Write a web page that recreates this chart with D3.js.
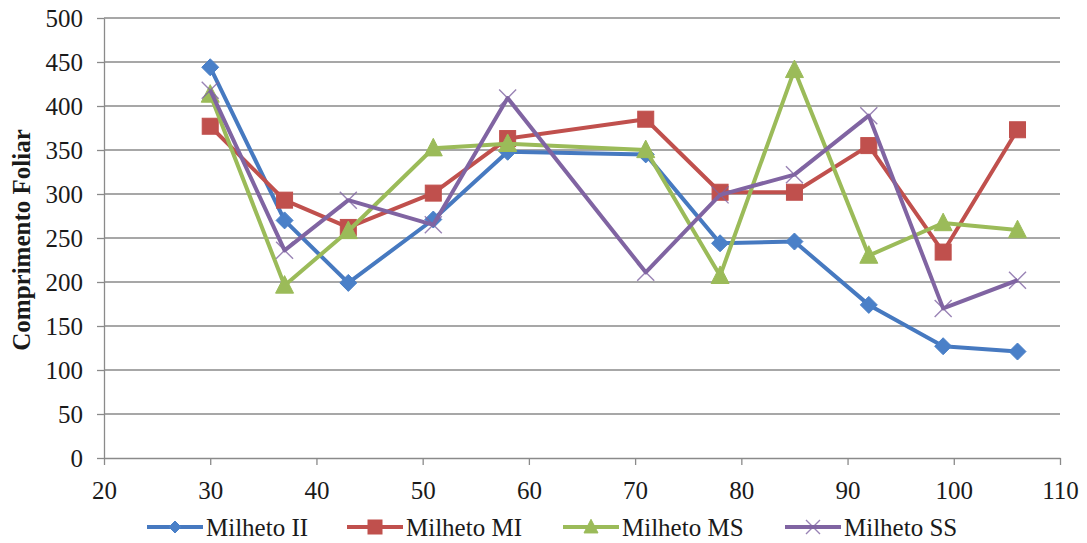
<!DOCTYPE html>
<html>
<head>
<meta charset="utf-8">
<script src="https://cdn.jsdelivr.net/npm/d3@7"></script>
<style>
  html, body { margin: 0; padding: 0; background: #fff; }
  svg { display: block; }
  text { font-family: "Liberation Serif", "Times New Roman", serif; fill: #1a1a1a; }
</style>
</head>
<body>
<svg id="chart" width="1087" height="543"></svg>
<script>
// Days after sowing
const days = [30, 37, 43, 51, 58, 71, 78, 85, 92, 99, 106];

// Leaf length per treatment
const milhetoII = [444, 270, 199, 271, 348, 345, 244, 246, 174, 127, 121];
const milhetoMI = [377, 293, 262, 301, 363, 385, 302, 302, 355, 234, 373];
const milhetoMS = [413, 196, 258, 352, 357, 350, 207, 441, 230, 267, 259];
const milhetoSS = [418, 236, 293, 265, 409, 211, 299, 322, 389, 170, 202];

const seriesNames = ["Milheto II", "Milheto MI", "Milheto MS", "Milheto SS"];
const seriesValues = [milhetoII, milhetoMI, milhetoMS, milhetoSS];

const xTicks = [20, 30, 40, 50, 60, 70, 80, 90, 100, 110];
const yTicks = [0, 50, 100, 150, 200, 250, 300, 350, 400, 450, 500];
const yTitle = "Comprimento Foliar";

const styles = [
  { line: "#4679c0", fill: "#4a80c8", marker: "diamond" },
  { line: "#c0504d", fill: "#c0504d", marker: "square" },
  { line: "#9bbb59", fill: "#9bbb59", marker: "triangle" },
  { line: "#8064a2", fill: "#8064a2", marker: "cross" }
];

const svg = d3.select("#chart");
const plot = { left: 104, right: 1060, top: 18, bottom: 458 };

const x = d3.scaleLinear().domain([20, 110]).range([plot.left, plot.right]);
const y = d3.scaleLinear().domain([0, 500]).range([plot.bottom, plot.top]);

const gridColor = "#8a8a8a";

// horizontal gridlines
svg.append("g")
  .selectAll("line")
  .data(yTicks.filter(d => d > 0))
  .join("line")
  .attr("x1", plot.left).attr("x2", plot.right)
  .attr("y1", d => y(d)).attr("y2", d => y(d))
  .attr("stroke", gridColor).attr("stroke-width", 1.3);

// y axis
const yAxis = svg.append("g")
  .attr("transform", `translate(${plot.left},0)`)
  .call(d3.axisLeft(y).tickValues(yTicks).tickSize(7).tickPadding(14).tickSizeOuter(0));
yAxis.select(".domain").attr("stroke", gridColor).attr("stroke-width", 1.3);
yAxis.selectAll(".tick line").attr("stroke", gridColor).attr("stroke-width", 1.3);
yAxis.selectAll(".tick text").attr("font-size", 25).attr("font-family", "Liberation Serif").attr("fill", "#1a1a1a");

// x axis
const xAxis = svg.append("g")
  .attr("transform", `translate(0,${plot.bottom})`)
  .call(d3.axisBottom(x).tickValues(xTicks).tickSize(7).tickPadding(16).tickSizeOuter(0));
xAxis.select(".domain").attr("stroke", gridColor).attr("stroke-width", 1.3);
xAxis.selectAll(".tick line").attr("stroke", gridColor).attr("stroke-width", 1.3);
xAxis.selectAll(".tick text").attr("font-size", 25).attr("font-family", "Liberation Serif").attr("fill", "#1a1a1a");

// y axis title
svg.append("text")
  .attr("transform", `translate(30,240) rotate(-90)`)
  .attr("text-anchor", "middle")
  .attr("font-size", 25)
  .attr("font-weight", "bold")
  .text(yTitle);

// marker drawing
function drawMarker(g, type, cx, cy, s, st) {
  if (type === "diamond") {
    g.append("path")
      .attr("d", `M${cx},${cy - s}L${cx + s},${cy}L${cx},${cy + s}L${cx - s},${cy}Z`)
      .attr("fill", st.fill).attr("stroke", st.fill).attr("stroke-width", 1);
  } else if (type === "square") {
    g.append("rect")
      .attr("x", cx - s).attr("y", cy - s).attr("width", 2 * s).attr("height", 2 * s)
      .attr("fill", st.fill).attr("stroke", st.fill).attr("stroke-width", 1);
  } else if (type === "triangle") {
    g.append("path")
      .attr("d", `M${cx},${cy - s * 1.1}L${cx + s},${cy + s * 0.85}L${cx - s},${cy + s * 0.85}Z`)
      .attr("fill", st.fill).attr("stroke", st.fill).attr("stroke-width", 1);
  } else {
    g.append("path")
      .attr("d", `M${cx - s},${cy - s}L${cx + s},${cy + s}M${cx - s},${cy + s}L${cx + s},${cy - s}`)
      .attr("fill", "none").attr("stroke", st.fill).attr("stroke-width", 1.4).attr("opacity", 0.8);
  }
}

const markerSize = [8.5, 8, 9, 8.5];

const line = d3.line().x(d => x(d[0])).y(d => y(d[1]));

seriesValues.forEach((vals, i) => {
  const st = styles[i];
  const pts = days.map((d, j) => [d, vals[j]]);
  const g = svg.append("g");
  g.append("path")
    .attr("d", line(pts))
    .attr("fill", "none")
    .attr("stroke", st.line)
    .attr("stroke-width", 4)
    .attr("stroke-linejoin", "round");
  pts.forEach(p => drawMarker(g, st.marker, x(p[0]), y(p[1]), markerSize[i], st));
});

// legend
const legendX = [147, 347, 563, 785];
const legendY = 527;
seriesNames.forEach((name, i) => {
  const st = styles[i];
  const g = svg.append("g");
  g.append("line")
    .attr("x1", legendX[i]).attr("x2", legendX[i] + 56)
    .attr("y1", legendY).attr("y2", legendY)
    .attr("stroke", st.line).attr("stroke-width", 4);
  drawMarker(g, st.marker, legendX[i] + 28, legendY, [6, 7, 7, 7][i], st);
  g.append("text")
    .attr("x", legendX[i] + 59)
    .attr("y", legendY + 9)
    .attr("font-size", 25)
    .text(name);
});
</script>
</body>
</html>
